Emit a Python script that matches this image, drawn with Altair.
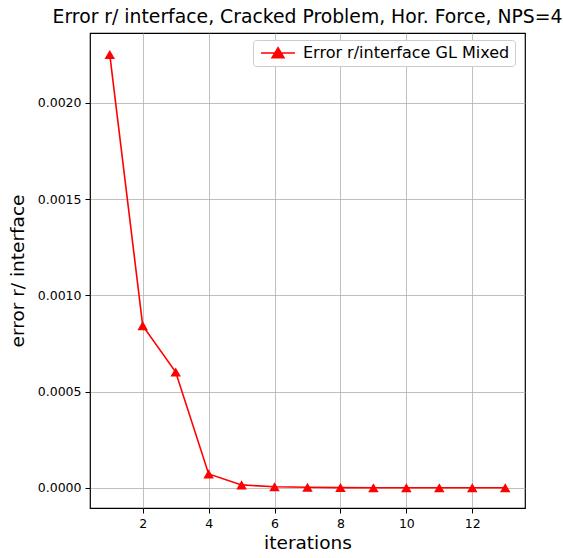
import altair as alt
import pandas as pd

iterations = [1, 2, 3, 4, 5, 6, 7, 8, 9, 10, 11, 12, 13]
errors = [0.00225, 0.000843, 0.000602, 0.0000730, 0.0000160, 0.0000060, 0.0000035,
          0.0000020, 0.0000015, 0.0000012, 0.0000010, 0.0000010, 0.0000010]
series_name = "Error r/interface GL Mixed"

df = pd.DataFrame({"iterations": iterations, "error": errors, "series": series_name})

FONT = "DejaVu Sans"

x = alt.X("iterations:Q", scale=alt.Scale(domain=[0.4, 13.6], nice=False, zero=False),
          axis=alt.Axis(title="iterations", values=[2, 4, 6, 8, 10, 12], format="d",
                        titleFontSize=18.5, titleFontWeight="normal", titlePadding=4))
y = alt.Y("error:Q", scale=alt.Scale(domain=[-0.000104, 0.002362], nice=False, zero=False),
          axis=alt.Axis(title="error r/ interface", values=[0, 0.0005, 0.001, 0.0015, 0.002],
                        format=".4f", titleFontSize=18.5, titleFontWeight="normal", titlePadding=10))

tri = "M-4,0H4M0,-1.25L1.4,1.1L-1.4,1.1Z"

line = alt.Chart(df).mark_line(strokeWidth=1.6).encode(
    x=x, y=y,
    color=alt.Color("series:N", scale=alt.Scale(range=["#ff0000"]),
                    legend=alt.Legend(title=None, orient="none", legendX=163, legendY=7,
                                      symbolType=tri, symbolSize=72, symbolStrokeWidth=1.6,
                                      symbolOffset=12, labelOffset=17,
                                      symbolFillColor="#ff0000", symbolStrokeColor="#ff0000",
                                      labelFontSize=16, labelFont=FONT, labelColor="black",
                                      fillColor="white",
                                      strokeColor="#cccccc", cornerRadius=3, padding=5,
                                      labelLimit=400))
)
points = alt.Chart(df).mark_point(shape="triangle-up", filled=True, size=110, opacity=1,
                                  color="#ff0000").encode(x=x, y=y)

chart = (line + points).properties(
    width=435, height=475,
    title=alt.TitleParams("Error r/ interface, Cracked Problem, Hor. Force, NPS=4",
                          fontSize=18.8, font=FONT, fontWeight="normal", offset=6,
                          anchor="middle", color="black"),
    padding={"left": 90, "top": 33, "right": 38, "bottom": 50},
    autosize=alt.AutoSizeParams(type="none"),
).configure_view(stroke="black", strokeWidth=1.2).configure_axis(
    labelFont=FONT, titleFont=FONT, labelFontSize=12.5, labelColor="black", titleColor="black",
    grid=True, gridColor="#b0b0b0", gridWidth=0.8, domain=False, tickColor="black",
    tickSize=5, labelPadding=4,
)

chart.save("out.html", embed_options={"renderer": "svg", "actions": False})
